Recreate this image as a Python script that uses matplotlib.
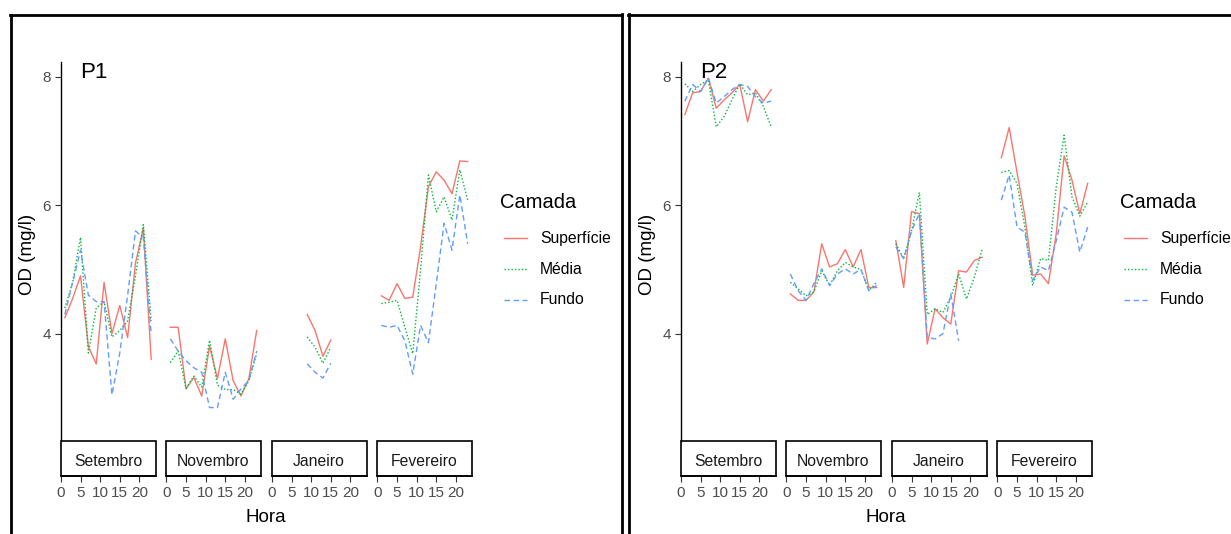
import numpy as np
import matplotlib
matplotlib.use("Agg")
import matplotlib.pyplot as plt
from matplotlib.patches import Rectangle
from matplotlib.lines import Line2D

plt.rcParams['font.family'] = ['Liberation Sans', 'DejaVu Sans']

nan = np.nan
hours = [1, 3, 5, 7, 9, 11, 13, 15, 17, 19, 21, 23]
months = ['Setembro', 'Novembro', 'Janeiro', 'Fevereiro']
layers = ['Superfície', 'Média', 'Fundo']

# P1
p1_set_sup = [4.25, 4.55, 4.9, 3.8, 3.53, 4.8, 4.0, 4.44, 3.94, 5.1, 5.64, 3.6]
p1_set_med = [4.4, 4.8, 5.5, 3.7, 4.4, 4.5, 3.95, 4.05, 4.2, 4.9, 5.7, 4.2]
p1_set_fun = [4.3, 4.8, 5.3, 4.6, 4.5, 4.5, 3.05, 3.7, 4.6, 5.6, 5.5, 4.0]
p1_nov_sup = [4.1, 4.1, 3.14, 3.32, 3.03, 3.81, 3.3, 3.92, 3.27, 3.03, 3.3, 4.05]
p1_nov_med = [3.55, 3.73, 3.15, 3.34, 3.17, 3.9, 3.2, 3.13, 3.13, 3.06, 3.27, 3.69]
p1_nov_fun = [3.92, 3.73, 3.58, 3.47, 3.4, 2.85, 2.85, 3.4, 2.98, 3.14, 3.27, 3.73]
p1_jan_sup = [nan, nan, nan, nan, 4.3, 4.05, 3.65, 3.9, nan, nan, nan, nan]
p1_jan_med = [nan, nan, nan, nan, 3.95, 3.79, 3.54, 3.79, nan, nan, nan, nan]
p1_jan_fun = [nan, nan, nan, nan, 3.53, 3.4, 3.31, 3.54, nan, nan, nan, nan]
p1_fev_sup = [4.59, 4.52, 4.78, 4.55, 4.57, 5.35, 6.29, 6.52, 6.39, 6.18, 6.69, 6.68]
p1_fev_med = [4.47, 4.49, 4.52, 4.1, 3.69, 5.0, 6.47, 5.9, 6.13, 5.77, 6.55, 6.08]
p1_fev_fun = [4.13, 4.1, 4.13, 3.89, 3.37, 4.13, 3.86, 4.78, 5.72, 5.3, 6.16, 5.4]

# P2
p2_set_sup = [7.41, 7.75, 7.77, 7.98, 7.51, 7.64, 7.75, 7.88, 7.3, 7.8, 7.62, 7.8]
p2_set_med = [7.89, 7.77, 7.88, 7.95, 7.22, 7.38, 7.64, 7.89, 7.72, 7.75, 7.54, 7.22]
p2_set_fun = [7.62, 7.88, 7.77, 7.98, 7.59, 7.69, 7.8, 7.88, 7.85, 7.69, 7.59, 7.62]
p2_nov_sup = [4.62, 4.52, 4.52, 4.65, 5.4, 5.04, 5.09, 5.31, 5.04, 5.31, 4.72, 4.72]
p2_nov_med = [4.8, 4.7, 4.59, 4.65, 4.98, 4.75, 4.98, 5.11, 5.04, 5.0, 4.67, 4.8]
p2_nov_fun = [4.93, 4.67, 4.52, 4.78, 5.01, 4.75, 4.93, 5.01, 4.93, 5.0, 4.67, 4.75]
p2_jan_sup = [5.45, 4.72, 5.9, 5.87, 3.84, 4.39, 4.25, 4.15, 4.98, 4.96, 5.14, 5.19]
p2_jan_med = [5.4, 5.17, 5.6, 6.2, 4.3, 4.39, 4.33, 4.57, 4.93, 4.54, 4.88, 5.32]
p2_jan_fun = [5.35, 5.17, 5.6, 5.87, 3.94, 3.92, 4.0, 4.62, 3.89, nan, nan, nan]
p2_fev_sup = [6.74, 7.21, 6.51, 5.83, 4.91, 4.93, 4.78, 5.56, 6.77, 6.39, 5.87, 6.34]
p2_fev_med = [6.51, 6.54, 6.34, 5.66, 4.75, 5.17, 5.14, 6.29, 7.09, 6.13, 5.83, 6.05]
p2_fev_fun = [6.08, 6.47, 5.66, 5.58, 4.83, 5.04, 4.98, 5.45, 5.97, 5.89, 5.27, 5.66]

p1 = [[p1_set_sup, p1_set_med, p1_set_fun], [p1_nov_sup, p1_nov_med, p1_nov_fun],
      [p1_jan_sup, p1_jan_med, p1_jan_fun], [p1_fev_sup, p1_fev_med, p1_fev_fun]]
p2 = [[p2_set_sup, p2_set_med, p2_set_fun], [p2_nov_sup, p2_nov_med, p2_nov_fun],
      [p2_jan_sup, p2_jan_med, p2_jan_fun], [p2_fev_sup, p2_fev_med, p2_fev_fun]]

colors = ['#F8766D', '#00BA38', '#619CFF']
styles = ['-', (0, (1, 1.5)), (0, (4, 2.5))]
grey = '#4D4D4D'

W, H = 1231, 534
fig = plt.figure(figsize=(W / 100, H / 100), dpi=100)


def add_ax(x0, y0, w, h):
    return fig.add_axes([x0 / W, 1 - (y0 + h) / H, w / W, h / H])


def fline(xs, ys, **kw):
    fig.add_artist(Line2D([x / W for x in xs], [1 - y / H for y in ys],
                          transform=fig.transFigure, **kw))


top, bot = 62, 441
strip_h = 35
lefts = [60.5, 166, 271.5, 377]
fw = 95


def draw_panel(data, dx, label):
    for i, m in enumerate(months):
        ax = add_ax(lefts[i] + dx, top, fw, bot - top)
        for j in range(3):
            ax.plot(hours, data[i][j], color=colors[j], ls=styles[j], lw=1.0)
        ax.set_xlim(-0.1, 24.1)
        ax.set_ylim(2.33, 8.23)
        ax.set_xticks([0, 5, 10, 15, 20])
        ax.spines['top'].set_visible(False)
        ax.spines['right'].set_visible(False)
        ax.spines['bottom'].set_position(('outward', strip_h * 0.72))
        ax.spines['bottom'].set_linewidth(1.2)
        ax.tick_params(axis='x', length=4, width=0.8, color='#333333',
                       labelcolor=grey, labelsize=11, pad=3)
        if i == 0:
            ax.set_yticks([4, 6, 8])
            ax.tick_params(axis='y', length=4, width=0.8, color='#333333',
                           labelcolor=grey, labelsize=11, pad=3)
            ax.spines['left'].set_linewidth(1.0)
        else:
            ax.spines['left'].set_visible(False)
            ax.set_yticks([])
        ax.add_patch(Rectangle((0, -strip_h / (bot - top)), 1, strip_h / (bot - top),
                               transform=ax.transAxes, clip_on=False,
                               facecolor='white', edgecolor='black', lw=1.2))
        ax.text(0.5, -(strip_h / 2 + 3) / (bot - top), m, transform=ax.transAxes,
                ha='center', va='center', fontsize=11.3, color='#1A1A1A')

    fig.text((28 + dx) / W, 1 - 254 / H, 'OD (mg/l)', rotation=90,
             ha='center', va='center', fontsize=13.5)
    fig.text((266 + dx) / W, 1 - 517 / H, 'Hora', ha='center', va='center',
             fontsize=13.5)
    fig.text((80 + dx) / W, 1 - 72 / H, label, ha='left', va='center',
             fontsize=16)

    lx = 500 + dx
    fig.text(lx / W, 1 - 202 / H, 'Camada', ha='left', va='center', fontsize=14.5)
    for j, name in enumerate(layers):
        y = 238 + j * 31
        fline([lx + 4, lx + 27], [y, y], color=colors[j], ls=styles[j], lw=1.0)
        fig.text((lx + 40) / W, 1 - y / H, name, ha='left', va='center',
                 fontsize=11.3)


draw_panel(p1, 0, 'P1')
draw_panel(p2, 620, 'P2')

# outer frames
fline([11, 11], [15, 540], color='black', lw=2)
fline([10, 622], [15, 15], color='black', lw=2)
fline([622, 622], [14, 540], color='black', lw=2)
fline([629, 629], [14, 540], color='black', lw=2)
fline([628, 1240], [15, 15], color='black', lw=2)

fig.savefig('out.png', dpi=100)
